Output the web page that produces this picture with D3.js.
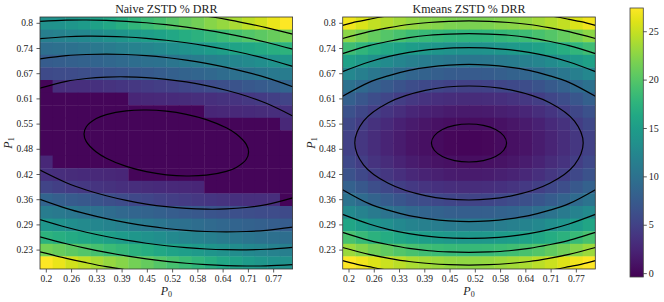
<!DOCTYPE html>
<html>
<head>
<meta charset="utf-8">
<script src="https://cdn.jsdelivr.net/npm/d3@7"></script>
<style>
    html, body { margin: 0; padding: 0; background: #fff; }
    svg { display: block; }
    svg text { font-family: "Liberation Serif", "DejaVu Serif", serif; }
</style>
</head>
<body>
<svg id="chart" width="664" height="302"></svg>
<script>
// grid values of both parameters
const P0 = [0.2, 0.2316, 0.2632, 0.2947, 0.3263, 0.3579, 0.3895, 0.4211, 0.4526, 0.4842,
            0.5158, 0.5474, 0.5789, 0.6105, 0.6421, 0.6737, 0.7053, 0.7368, 0.7684, 0.8];
const P1 = [0.2, 0.2316, 0.2632, 0.2947, 0.3263, 0.3579, 0.3895, 0.4211, 0.4526, 0.4842,
            0.5158, 0.5474, 0.5789, 0.6105, 0.6421, 0.6737, 0.7053, 0.7368, 0.7684, 0.8];

const TITLES = ["Naive ZSTD % DRR", "Kmeans ZSTD % DRR"];
const CBAR_RANGE = [-0.4, 27.4];
const CBAR_TICKS = [0, 5, 10, 15, 20, 25];

// % DRR, rows listed from P1 = 0.8 (top) down to P1 = 0.2
const naiveDRR = [
    [13.5, 13.8, 14.2, 14.8, 15.5, 16.2, 17.0, 17.8, 18.5, 19.2, 20.0, 20.8, 21.5, 22.3, 23.0, 23.8, 24.6, 25.4, 26.5, 27.3],
    [11.5, 11.8, 12.2, 12.6, 13.1, 13.6, 14.1, 14.6, 15.1, 15.6, 16.2, 16.8, 17.4, 18.0, 18.6, 19.2, 19.8, 20.4, 20.9, 21.5],
    [9.5, 9.7, 10.0, 10.3, 10.7, 11.1, 11.5, 11.9, 12.3, 12.7, 13.2, 13.7, 14.2, 14.7, 15.2, 15.7, 16.1, 16.5, 17.0, 17.5],
    [7.6, 7.8, 8.0, 8.2, 8.5, 8.8, 9.1, 9.4, 9.7, 10.0, 10.4, 10.8, 11.2, 11.6, 12.0, 12.4, 12.8, 13.2, 13.7, 14.2],
    [5.8, 5.9, 6.0, 6.2, 6.4, 6.6, 6.8, 7.1, 7.4, 7.7, 8.0, 8.3, 8.6, 8.9, 9.3, 9.7, 10.1, 10.5, 10.8, 11.2],
    [0.0, 3.2, 3.3, 3.4, 3.5, 3.7, 3.9, 4.1, 4.4, 4.7, 5.0, 5.3, 5.6, 5.9, 6.3, 6.7, 7.1, 7.5, 7.9, 8.4],
    [0, 0, 0, 0, 0, 0, 0, 2.6, 2.7, 2.8, 2.9, 3.0, 3.2, 3.4, 3.6, 3.8, 4.1, 4.4, 4.8, 5.2],
    [0, 0, 0, 0, 0, 0, 0, 0, 0, 0, 0, 0, 0, 2.6, 2.7, 2.8, 2.9, 3.0, 3.2, 3.5],
    [0, 0, 0, 0, 0, 0, 0, 0, 0, 0, 0, 0, 0, 0, 0, 0, 0, 0, 0, 2.7],
    [0, 0, 0, 0, 0, 0, 0, 0, 0, 0, 0, 0, 0, 0, 0, 0, 0, 0, 0, 0],
    [0, 0, 0, 0, 0, 0, 0, 0, 0, 0, 0, 0, 0, 0, 0, 0, 0, 0, 0, 0],
    [2.7, 0, 0, 0, 0, 0, 0, 0, 0, 0, 0, 0, 0, 0, 0, 0, 0, 0, 0, 0],
    [3.5, 3.2, 3.0, 2.9, 2.8, 2.7, 2.6, 0, 0, 0, 0, 0, 0, 0, 0, 0, 0, 0, 0, 0],
    [5.2, 4.8, 4.4, 4.1, 3.8, 3.6, 3.4, 3.2, 3.0, 2.9, 2.8, 2.7, 2.6, 0, 0, 0, 0, 0, 0, 0],
    [8.4, 7.9, 7.5, 7.1, 6.7, 6.3, 5.9, 5.6, 5.3, 5.0, 4.7, 4.4, 4.1, 3.9, 3.7, 3.5, 3.4, 3.3, 3.2, 0.0],
    [11.2, 10.8, 10.5, 10.1, 9.7, 9.3, 8.9, 8.6, 8.3, 8.0, 7.7, 7.4, 7.1, 6.8, 6.6, 6.4, 6.2, 6.0, 5.9, 5.8],
    [14.2, 13.7, 13.2, 12.8, 12.4, 12.0, 11.6, 11.2, 10.8, 10.4, 10.0, 9.7, 9.4, 9.1, 8.8, 8.5, 8.2, 8.0, 7.8, 7.6],
    [17.5, 17.0, 16.5, 16.1, 15.7, 15.2, 14.7, 14.2, 13.7, 13.2, 12.7, 12.3, 11.9, 11.5, 11.1, 10.7, 10.3, 10.0, 9.7, 9.5],
    [21.5, 20.9, 20.4, 19.8, 19.2, 18.6, 18.0, 17.4, 16.8, 16.2, 15.6, 15.1, 14.6, 14.1, 13.6, 13.1, 12.6, 12.2, 11.8, 11.5],
    [27.3, 26.5, 25.4, 24.6, 23.8, 23.0, 22.3, 21.5, 20.8, 20.0, 19.2, 18.5, 17.8, 17.0, 16.2, 15.5, 14.8, 14.2, 13.8, 13.5]
];

const kmeansDRR = [
    [26.8, 25.8, 24.9, 24.2, 23.5, 22.9, 22.5, 22.2, 21.9, 21.8, 21.8, 21.9, 22.2, 22.5, 22.9, 23.5, 24.2, 24.9, 25.8, 26.8],
    [22.6, 21.6, 20.7, 20.0, 19.3, 18.7, 18.3, 18.0, 17.7, 17.6, 17.6, 17.7, 18.0, 18.3, 18.7, 19.3, 20.0, 20.7, 21.6, 22.6],
    [18.8, 17.8, 16.9, 16.2, 15.5, 14.9, 14.5, 14.2, 13.9, 13.8, 13.8, 13.9, 14.2, 14.5, 14.9, 15.5, 16.2, 16.9, 17.8, 18.8],
    [15.5, 14.5, 13.6, 12.9, 12.2, 11.6, 11.2, 10.9, 10.6, 10.5, 10.5, 10.6, 10.9, 11.2, 11.6, 12.2, 12.9, 13.6, 14.5, 15.5],
    [12.5, 11.5, 10.6, 9.9, 9.2, 8.6, 8.2, 7.9, 7.6, 7.5, 7.5, 7.6, 7.9, 8.2, 8.6, 9.2, 9.9, 10.6, 11.5, 12.5],
    [10.0, 9.0, 8.1, 7.4, 6.7, 6.1, 5.7, 5.4, 5.1, 5.0, 5.0, 5.1, 5.4, 5.7, 6.1, 6.7, 7.4, 8.1, 9.0, 10.0],
    [8.0, 7.0, 6.1, 5.4, 4.7, 4.1, 3.7, 3.4, 3.1, 3.0, 3.0, 3.1, 3.4, 3.7, 4.1, 4.7, 5.4, 6.1, 7.0, 8.0],
    [6.5, 5.5, 4.6, 3.9, 3.2, 2.6, 2.2, 1.9, 1.6, 1.5, 1.5, 1.6, 1.9, 2.2, 2.6, 3.2, 3.9, 4.6, 5.5, 6.5],
    [5.5, 4.5, 3.6, 2.9, 2.2, 1.6, 1.2, 0.9, 0.6, 0.5, 0.5, 0.6, 0.9, 1.2, 1.6, 2.2, 2.9, 3.6, 4.5, 5.5],
    [5.0, 4.0, 3.1, 2.4, 1.7, 1.1, 0.7, 0.4, 0.1, 0.0, 0.0, 0.1, 0.4, 0.7, 1.1, 1.7, 2.4, 3.1, 4.0, 5.0],
    [5.0, 4.0, 3.1, 2.4, 1.7, 1.1, 0.7, 0.4, 0.1, 0.0, 0.0, 0.1, 0.4, 0.7, 1.1, 1.7, 2.4, 3.1, 4.0, 5.0],
    [5.6, 4.6, 3.7, 3.0, 2.3, 1.7, 1.3, 1.0, 0.7, 0.6, 0.6, 0.7, 1.0, 1.3, 1.7, 2.3, 3.0, 3.7, 4.6, 5.6],
    [6.6, 5.6, 4.7, 4.0, 3.3, 2.7, 2.3, 2.0, 1.7, 1.6, 1.6, 1.7, 2.0, 2.3, 2.7, 3.3, 4.0, 4.7, 5.6, 6.6],
    [8.1, 7.1, 6.2, 5.5, 4.8, 4.2, 3.8, 3.5, 3.2, 3.1, 3.1, 3.2, 3.5, 3.8, 4.2, 4.8, 5.5, 6.2, 7.1, 8.1],
    [10.2, 9.2, 8.3, 7.6, 6.9, 6.3, 5.9, 5.6, 5.3, 5.2, 5.2, 5.3, 5.6, 5.9, 6.3, 6.9, 7.6, 8.3, 9.2, 10.2],
    [12.8, 11.8, 10.9, 10.2, 9.5, 8.9, 8.5, 8.2, 7.9, 7.8, 7.8, 7.9, 8.2, 8.5, 8.9, 9.5, 10.2, 10.9, 11.8, 12.8],
    [15.9, 14.9, 14.0, 13.3, 12.6, 12.0, 11.6, 11.3, 11.0, 10.9, 10.9, 11.0, 11.3, 11.6, 12.0, 12.6, 13.3, 14.0, 14.9, 15.9],
    [19.3, 18.3, 17.4, 16.7, 16.0, 15.4, 15.0, 14.7, 14.4, 14.3, 14.3, 14.4, 14.7, 15.0, 15.4, 16.0, 16.7, 17.4, 18.3, 19.3],
    [23.2, 22.2, 21.3, 20.6, 19.9, 19.3, 18.9, 18.6, 18.3, 18.2, 18.2, 18.3, 18.6, 18.9, 19.3, 19.9, 20.6, 21.3, 22.2, 23.2],
    [27.3, 26.8, 25.9, 25.2, 24.5, 23.9, 23.5, 23.2, 22.9, 22.8, 22.8, 22.9, 23.2, 23.5, 23.9, 24.5, 25.2, 25.9, 26.8, 27.3]
];

// contour lines: P1 at each of these P0 positions
const CONTOUR_P0 = [0.184, 0.25, 0.3, 0.35, 0.4, 0.45, 0.5, 0.55, 0.6, 0.65, 0.7, 0.75, 0.816];

const naiveUp2 = [0.6375, 0.6546, 0.6617, 0.6653, 0.6659, 0.664, 0.6597, 0.653, 0.6439, 0.6322, 0.6177, 0.5995, 0.5678];
const naiveLo2 = [0.4322, 0.4005, 0.3823, 0.3678, 0.3561, 0.347, 0.3403, 0.336, 0.3341, 0.3347, 0.3383, 0.3454, 0.3625];
const naiveUp3 = [0.7108, 0.7188, 0.7218, 0.7228, 0.7218, 0.7189, 0.7143, 0.7079, 0.6997, 0.6897, 0.6777, 0.6637, 0.6411];
const naiveLo3 = [0.3589, 0.3363, 0.3223, 0.3103, 0.3003, 0.2921, 0.2857, 0.2811, 0.2782, 0.2772, 0.2782, 0.2812, 0.2892];
const naiveUp4 = [0.7615, 0.7663, 0.7677, 0.7674, 0.7657, 0.7623, 0.7575, 0.7513, 0.7436, 0.7343, 0.7236, 0.7112, 0.6919];
const naiveLo4 = [0.3081, 0.2888, 0.2764, 0.2657, 0.2564, 0.2487, 0.2425, 0.2377, 0.2343, 0.2326, 0.2323, 0.2337, 0.2385];
const naiveUp5 = [0.8048, 0.8078, 0.8083, 0.8073, 0.805, 0.8014, 0.7965, 0.7904, 0.783, 0.7742, 0.7642, 0.7526, 0.7351];
const naiveLo5 = [0.2649, 0.2474, 0.2358, 0.2258, 0.217, 0.2096, 0.2035, 0.1986, 0.195, 0.1927, 0.1917, 0.1922, 0.1952];
const naiveUp6P0 = [0.5, 0.55, 0.6, 0.65, 0.7, 0.75, 0.816];
const naiveUp6 = [0.831, 0.825, 0.818, 0.810, 0.800, 0.789, 0.773];
const naiveLo6P0 = [0.184, 0.25, 0.3, 0.35, 0.4, 0.45, 0.5];
const naiveLo6 = [0.227, 0.211, 0.200, 0.190, 0.182, 0.175, 0.169];
const naiveInnerP0 = [0.2943, 0.3, 0.325, 0.35, 0.4, 0.45, 0.5, 0.55, 0.6, 0.65, 0.675, 0.7, 0.7057,
                      0.7, 0.675, 0.65, 0.6, 0.55, 0.5, 0.45, 0.4, 0.35, 0.325, 0.3];
const naiveInnerP1 = [0.5227, 0.5408, 0.5612, 0.5711, 0.5807, 0.5827, 0.5797, 0.5717, 0.5586, 0.538, 0.5226, 0.4966, 0.4773,
                      0.4592, 0.4388, 0.4289, 0.4193, 0.4173, 0.4203, 0.4283, 0.4414, 0.462, 0.4774, 0.5034];

const kmUp3 = [0.617, 0.652, 0.669, 0.682, 0.690, 0.695, 0.697, 0.695, 0.690, 0.682, 0.669, 0.652, 0.617];
const kmLo3 = [0.383, 0.348, 0.331, 0.318, 0.310, 0.305, 0.303, 0.305, 0.310, 0.318, 0.331, 0.348, 0.383];
const kmUp4 = [0.679, 0.703, 0.717, 0.727, 0.734, 0.738, 0.739, 0.738, 0.734, 0.727, 0.717, 0.703, 0.679];
const kmLo4 = [0.321, 0.297, 0.283, 0.273, 0.266, 0.262, 0.261, 0.262, 0.266, 0.273, 0.283, 0.297, 0.321];
const kmUp5 = [0.724, 0.744, 0.755, 0.764, 0.770, 0.773, 0.774, 0.773, 0.770, 0.764, 0.755, 0.744, 0.724];
const kmLo5 = [0.276, 0.256, 0.245, 0.236, 0.230, 0.227, 0.226, 0.227, 0.230, 0.236, 0.245, 0.256, 0.276];
const kmUp6 = [0.762, 0.779, 0.789, 0.797, 0.802, 0.805, 0.806, 0.805, 0.802, 0.797, 0.789, 0.779, 0.762];
const kmLo6 = [0.238, 0.221, 0.211, 0.203, 0.198, 0.195, 0.194, 0.195, 0.198, 0.203, 0.211, 0.221, 0.238];
const kmCornerLeftP0 = [0.184, 0.22, 0.25, 0.28, 0.3];
const kmCornerRightP0 = [0.7, 0.72, 0.75, 0.78, 0.816];
const kmTop7Left = [0.795, 0.804, 0.810, 0.816, 0.819];
const kmTop7Right = [0.819, 0.816, 0.810, 0.804, 0.795];
const kmBot7Left = [0.205, 0.196, 0.190, 0.184, 0.181];
const kmBot7Right = [0.181, 0.184, 0.190, 0.196, 0.205];
const kmInnerP0 = [0.594, 0.5868, 0.5665, 0.536, 0.5, 0.464, 0.4335, 0.4132, 0.406, 0.4132, 0.4335, 0.464, 0.5, 0.536, 0.5665, 0.5868];
const kmInnerP1 = [0.5, 0.5182, 0.5337, 0.544, 0.5476, 0.544, 0.5337, 0.5182, 0.5, 0.4818, 0.4663, 0.456, 0.4524, 0.456, 0.4663, 0.4818];
const kmOuterP0 = [0.7855, 0.7638, 0.7019, 0.6093, 0.5, 0.3907, 0.2981, 0.2362, 0.2145, 0.2362, 0.2981, 0.3907, 0.5, 0.6093, 0.7019, 0.7638];
const kmOuterP1 = [0.5, 0.5547, 0.601, 0.632, 0.6429, 0.632, 0.601, 0.5547, 0.5, 0.4453, 0.399, 0.368, 0.3571, 0.368, 0.399, 0.4453];

const zip = (xs, ys) => xs.map((v, i) => [v, ys[i]]);

const naiveLines = [
    { pts: zip(naiveInnerP0, naiveInnerP1), closed: true },
    { pts: zip(CONTOUR_P0, naiveUp2) }, { pts: zip(CONTOUR_P0, naiveLo2) },
    { pts: zip(CONTOUR_P0, naiveUp3) }, { pts: zip(CONTOUR_P0, naiveLo3) },
    { pts: zip(CONTOUR_P0, naiveUp4) }, { pts: zip(CONTOUR_P0, naiveLo4) },
    { pts: zip(CONTOUR_P0, naiveUp5) }, { pts: zip(CONTOUR_P0, naiveLo5) },
    { pts: zip(naiveUp6P0, naiveUp6) }, { pts: zip(naiveLo6P0, naiveLo6) },
];

const kmeansLines = [
    { pts: zip(kmInnerP0, kmInnerP1), closed: true },
    { pts: zip(kmOuterP0, kmOuterP1), closed: true },
    { pts: zip(CONTOUR_P0, kmUp3) }, { pts: zip(CONTOUR_P0, kmLo3) },
    { pts: zip(CONTOUR_P0, kmUp4) }, { pts: zip(CONTOUR_P0, kmLo4) },
    { pts: zip(CONTOUR_P0, kmUp5) }, { pts: zip(CONTOUR_P0, kmLo5) },
    { pts: zip(CONTOUR_P0, kmUp6) }, { pts: zip(CONTOUR_P0, kmLo6) },
    { pts: zip(kmCornerLeftP0, kmTop7Left) }, { pts: zip(kmCornerRightP0, kmTop7Right) },
    { pts: zip(kmCornerLeftP0, kmBot7Left) }, { pts: zip(kmCornerRightP0, kmBot7Right) },
];

// layout
const TOP = 17, PH = 252, PW = 252.6;
const PANEL_X = [40, 342.7];
const TEXT = '#222';
const SERIF = '"Liberation Serif", "DejaVu Serif", serif';

const svg = d3.select('#chart');
const color = d3.scaleSequential(d3.interpolateViridis).domain(CBAR_RANGE);
const fmt = d => String(+d.toFixed(2));

function styleAxis(a, size) {
    a.attr('font-family', null).attr('font-size', null);
    a.select('.domain').remove();
    a.selectAll('line').attr('stroke', '#333').attr('stroke-width', 0.8);
    a.selectAll('text')
        .attr('fill', TEXT)
        .style('font-family', SERIF)
        .style('font-size', size + 'px');
}

function drawPanel(x0, title, values, lines, idx) {
    const x = d3.scaleBand().domain(P0).range([x0, x0 + PW]);
    const y = d3.scaleBand().domain(P1).range([TOP + PH, TOP]);
    const step = (P0[P0.length - 1] - P0[0]) / (P0.length - 1);
    const xl = d3.scaleLinear().domain([P0[0] - step / 2, P0[P0.length - 1] + step / 2]).range([x0, x0 + PW]);
    const yl = d3.scaleLinear().domain([P1[0] - step / 2, P1[P1.length - 1] + step / 2]).range([TOP + PH, TOP]);

    const clipId = 'clip' + idx;
    svg.append('clipPath').attr('id', clipId)
        .append('rect').attr('x', x0).attr('y', TOP).attr('width', PW).attr('height', PH);

    const g = svg.append('g').attr('clip-path', `url(#${clipId})`);

    // heatmap cells
    const cells = [];
    values.forEach((row, r) => row.forEach((v, c) => {
        cells.push({ p0: P0[c], p1: P1[P1.length - 1 - r], v: v });
    }));
    g.append('g').selectAll('rect')
        .data(cells)
        .join('rect')
        .attr('x', d => x(d.p0))
        .attr('y', d => y(d.p1))
        .attr('width', x.bandwidth() + 0.4)
        .attr('height', y.bandwidth() + 0.4)
        .attr('fill', d => color(d.v));

    // contour lines
    const open = d3.line().x(d => xl(d[0])).y(d => yl(d[1])).curve(d3.curveCatmullRom.alpha(0.5));
    const closed = d3.line().x(d => xl(d[0])).y(d => yl(d[1])).curve(d3.curveCatmullRomClosed.alpha(0.5));
    g.append('g').selectAll('path')
        .data(lines)
        .join('path')
        .attr('d', d => (d.closed ? closed : open)(d.pts))
        .attr('fill', 'none')
        .attr('stroke', '#000')
        .attr('stroke-width', 1.2);

    // frame
    svg.append('rect')
        .attr('x', x0).attr('y', TOP).attr('width', PW).attr('height', PH)
        .attr('fill', 'none').attr('stroke', '#333').attr('stroke-width', 0.8);

    // axes
    const xAxis = svg.append('g')
        .attr('transform', `translate(0,${TOP + PH})`)
        .call(d3.axisBottom(x).tickValues(P0.filter((d, i) => i % 2 === 0)).tickFormat(fmt).tickSize(3.5).tickPadding(2.5));
    const yAxis = svg.append('g')
        .attr('transform', `translate(${x0},0)`)
        .call(d3.axisLeft(y).tickValues(P1.filter((d, i) => i % 2 === 1)).tickFormat(fmt).tickSize(3.5).tickPadding(3.5));
    styleAxis(xAxis, 9.5);
    styleAxis(yAxis, 9.5);

    // title
    svg.append('text')
        .attr('x', x0 + PW / 2).attr('y', 13)
        .attr('text-anchor', 'middle')
        .attr('font-size', 12).attr('fill', TEXT)
        .text(title);

    // axis labels
    const xl0 = svg.append('text')
        .attr('x', x0 + PW / 2).attr('y', 295)
        .attr('text-anchor', 'middle').attr('fill', TEXT).attr('font-size', 12);
    xl0.append('tspan').attr('font-style', 'italic').text('P');
    xl0.append('tspan').attr('font-size', 8).attr('dy', 2).text('0');

    const yl0 = svg.append('text')
        .attr('transform', `translate(${x0 - 28},${TOP + PH / 2}) rotate(-90)`)
        .attr('text-anchor', 'middle').attr('fill', TEXT).attr('font-size', 12);
    yl0.append('tspan').attr('font-style', 'italic').text('P');
    yl0.append('tspan').attr('font-size', 8).attr('dy', 2).text('1');
}

drawPanel(PANEL_X[0], TITLES[0], naiveDRR, naiveLines, 0);
drawPanel(PANEL_X[1], TITLES[1], kmeansDRR, kmeansLines, 1);

// colorbar
const CB = { x: 630, y: 8, w: 13.3, h: 269 };
const grad = svg.append('defs').append('linearGradient')
    .attr('id', 'cbar').attr('x1', 0).attr('y1', 1).attr('x2', 0).attr('y2', 0);
d3.range(0, 1.0001, 0.05).forEach(t => {
    grad.append('stop')
        .attr('offset', t)
        .attr('stop-color', d3.interpolateViridis(t));
});
svg.append('rect')
    .attr('x', CB.x).attr('y', CB.y).attr('width', CB.w).attr('height', CB.h)
    .attr('fill', 'url(#cbar)').attr('stroke', '#444').attr('stroke-width', 0.8);

const cbScale = d3.scaleLinear().domain(CBAR_RANGE).range([CB.y + CB.h, CB.y]);
const cbAxis = svg.append('g')
    .attr('transform', `translate(${CB.x + CB.w},0)`)
    .call(d3.axisRight(cbScale).tickValues(CBAR_TICKS).tickFormat(d3.format('d')).tickSize(3.5).tickPadding(2));
styleAxis(cbAxis, 10);
</script>
</body>
</html>
